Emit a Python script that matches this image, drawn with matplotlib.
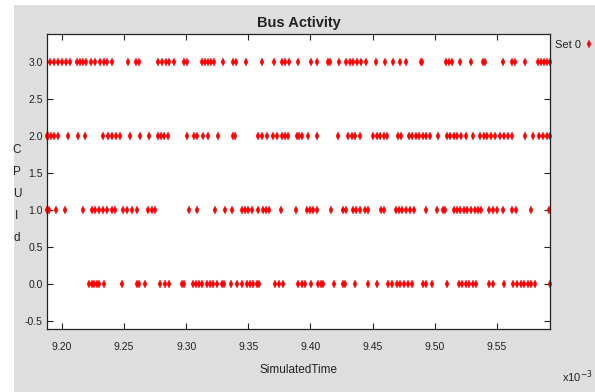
import numpy as np
import matplotlib
matplotlib.use('Agg')
import matplotlib.pyplot as plt
from matplotlib.patches import Rectangle

plt.rcParams['font.family'] = ['Liberation Sans Narrow', 'Liberation Sans', 'DejaVu Sans']

# bus activity samples, simulated time in units of 1e-3
cpu3 = [9.1902, 9.1933, 9.1970, 9.2003, 9.2030, 9.2064, 9.2125, 9.2147, 9.2168, 9.2192,
        9.2238, 9.2268, 9.2305, 9.2336, 9.2360, 9.2406, 9.2528, 9.2598, 9.2620, 9.2772,
        9.2803, 9.2840, 9.2864, 9.2904, 9.2986, 9.3010, 9.3124, 9.3154, 9.3179, 9.3200,
        9.3224, 9.3298, 9.3376, 9.3404, 9.3484, 9.3612, 9.3710, 9.3770, 9.3795, 9.3825,
        9.3896, 9.4008, 9.4054, 9.4137, 9.4155, 9.4232, 9.4283, 9.4314, 9.4344, 9.4375,
        9.4406, 9.4445, 9.4528, 9.4598, 9.4665, 9.4720, 9.4772, 9.4885, 9.4894, 9.5093,
        9.5116, 9.5138, 9.5199, 9.5290, 9.5391, 9.5407, 9.5551, 9.5620, 9.5642, 9.5727,
        9.5834, 9.5855, 9.5876, 9.5901, 9.5926]
cpu2 = [9.1882, 9.1886, 9.1910, 9.1936, 9.1971, 9.2051, 9.2132, 9.2186, 9.2333, 9.2373,
        9.2400, 9.2435, 9.2467, 9.2548, 9.2628, 9.2703, 9.2775, 9.2797, 9.2821, 9.2855,
        9.3003, 9.3062, 9.3089, 9.3137, 9.3177, 9.3257, 9.3373, 9.3392, 9.3579, 9.3606,
        9.3647, 9.3700, 9.3727, 9.3767, 9.3794, 9.3820, 9.3888, 9.3909, 9.3928, 9.3981,
        9.4053, 9.4222, 9.4303, 9.4330, 9.4357, 9.4397, 9.4504, 9.4531, 9.4558, 9.4590,
        9.4616, 9.4705, 9.4732, 9.4791, 9.4817, 9.4845, 9.4871, 9.4901, 9.4933, 9.4960,
        9.5026, 9.5099, 9.5126, 9.5152, 9.5179, 9.5214, 9.5247, 9.5308, 9.5362, 9.5394,
        9.5423, 9.5454, 9.5484, 9.5524, 9.5554, 9.5591, 9.5621, 9.5728, 9.5789, 9.5835,
        9.5872, 9.5902, 9.5926]
cpu1 = [9.1880, 9.1899, 9.1953, 9.2025, 9.2167, 9.2240, 9.2266, 9.2301, 9.2333, 9.2360,
        9.2400, 9.2427, 9.2494, 9.2526, 9.2561, 9.2601, 9.2695, 9.2722, 9.2749, 9.3024,
        9.3084, 9.3231, 9.3311, 9.3365, 9.3446, 9.3472, 9.3499, 9.3526, 9.3579, 9.3614,
        9.3641, 9.3667, 9.3759, 9.3882, 9.3968, 9.3995, 9.4021, 9.4053, 9.4161, 9.4262,
        9.4284, 9.4343, 9.4370, 9.4402, 9.4437, 9.4463, 9.4571, 9.4590, 9.4686, 9.4713,
        9.4740, 9.4772, 9.4799, 9.4831, 9.4933, 9.5021, 9.5062, 9.5080, 9.5152, 9.5179,
        9.5200, 9.5233, 9.5259, 9.5289, 9.5321, 9.5347, 9.5375, 9.5439, 9.5469, 9.5500,
        9.5545, 9.5621, 9.5652, 9.5774, 9.5920]
cpu0 = [9.2220, 9.2240, 9.2260, 9.2280, 9.2301, 9.2338, 9.2481, 9.2601, 9.2622, 9.2668,
        9.2789, 9.2829, 9.2864, 9.2963, 9.2982, 9.3056, 9.3078, 9.3102, 9.3129, 9.3164,
        9.3191, 9.3217, 9.3245, 9.3285, 9.3306, 9.3357, 9.3405, 9.3446, 9.3486, 9.3512,
        9.3539, 9.3566, 9.3587, 9.3713, 9.3748, 9.3780, 9.3901, 9.3928, 9.3954, 9.4003,
        9.4061, 9.4083, 9.4102, 9.4188, 9.4258, 9.4276, 9.4357, 9.4463, 9.4536, 9.4624,
        9.4652, 9.4692, 9.4718, 9.4750, 9.4785, 9.4820, 9.4901, 9.4927, 9.4981, 9.5099,
        9.5195, 9.5222, 9.5249, 9.5276, 9.5308, 9.5335, 9.5439, 9.5469, 9.5554, 9.5627,
        9.5659, 9.5691, 9.5719, 9.5747, 9.5776, 9.5804, 9.5924]

cpu_ids = [3, 2, 1, 0]
series = [cpu3, cpu2, cpu1, cpu0]

xticks = [9.20, 9.25, 9.30, 9.35, 9.40, 9.45, 9.50, 9.55]
yticks = [-0.5, 0.0, 0.5, 1.0, 1.5, 2.0, 2.5, 3.0]

fig = plt.figure(figsize=(5.95, 3.92), dpi=100, facecolor='white')
# grey panel behind the plot
fig.patches.append(Rectangle((13.7/595, 0), 1, 387/392, transform=fig.transFigure,
                             facecolor='#dedede', edgecolor='none', zorder=-10))

ax = fig.add_axes([46.7/595, 1 - 329.3/392, 503.6/595, 295.1/392])
ax.set_facecolor('white')

x_all = np.concatenate([np.array(s) for s in series])
y_all = np.concatenate([np.full(len(s), cid) for s, cid in zip(series, cpu_ids)])
ax.plot(x_all, y_all, linestyle='none', marker='d', markersize=4.0,
        color='#ff0000', markeredgewidth=0.3, label='Set 0', clip_on=False)

ax.set_xlim(9.1878, 9.5929)
ax.set_ylim(-0.61, 3.37)
ax.set_xticks(xticks)
ax.set_xticklabels(['%.2f' % t for t in xticks])
ax.set_yticks(yticks)
ax.set_yticklabels(['%.1f' % t for t in yticks])
ax.tick_params(direction='in', length=4, width=0.8, top=True, right=True,
               labelsize=7.5, colors='#222222', pad=3)
ax.tick_params(axis='x', pad=9)
for sp in ax.spines.values():
    sp.set_linewidth(0.9)
    sp.set_color('#222222')

ax.set_title('Bus Activity', fontsize=10.5, fontweight='bold', color='#222222', pad=5)
ax.set_xlabel('SimulatedTime', fontsize=8.5, color='#222222', labelpad=9)
fig.text(17/595, 1 - 194/392, 'C\nP\nU\nI\nd', ha='center', va='center',
         fontsize=8.5, linespacing=2.1, color='#222222')
fig.text(562/595, 1 - 377/392, 'x10$^{-3}$', ha='left', va='center',
         fontsize=8, color='#222222')

leg = ax.legend(loc='upper left', bbox_to_anchor=(1.0, 0.995), frameon=False,
                markerfirst=False, handlelength=0.6, handletextpad=0.4,
                borderaxespad=0.2, fontsize=8, borderpad=0.2)
for t in leg.get_texts():
    t.set_color('#222222')

fig.savefig('out.png', dpi=100, facecolor=fig.get_facecolor())
